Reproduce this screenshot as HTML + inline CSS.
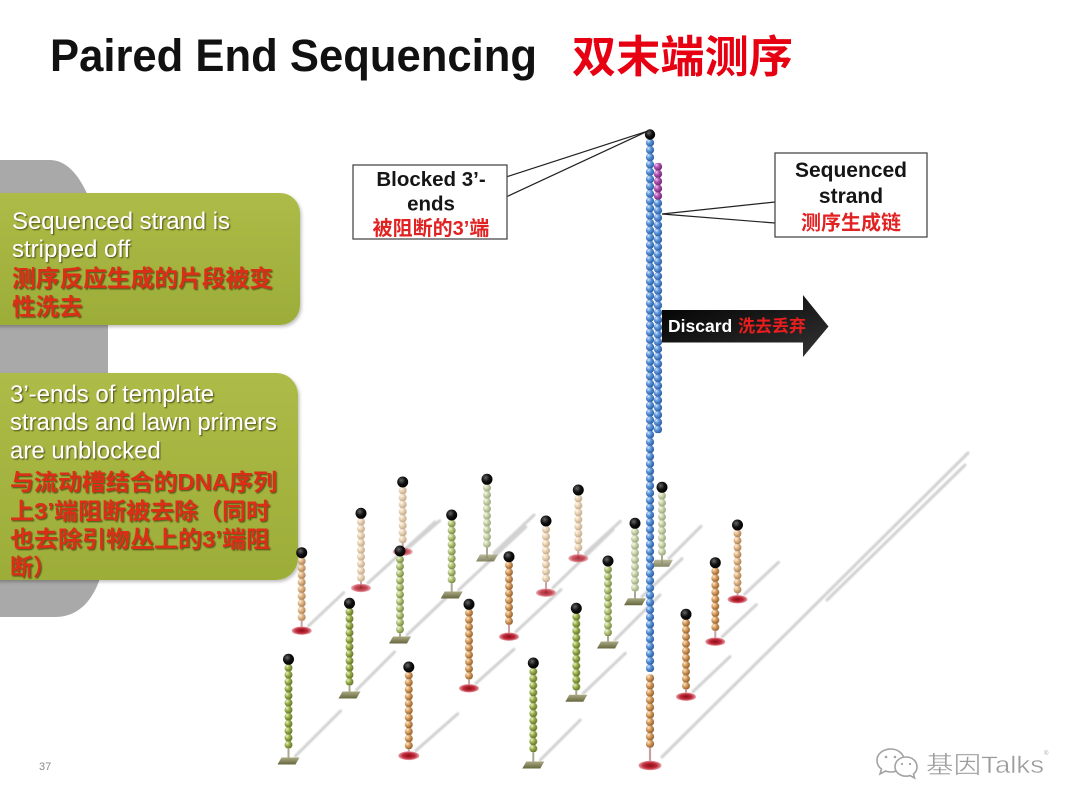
<!DOCTYPE html>
<html><head><meta charset="utf-8">
<style>
html,body{margin:0;padding:0;background:#fff;}
body{width:1080px;height:810px;overflow:hidden;}
svg{display:block;}
</style></head>
<body>
<svg width="1080" height="810" viewBox="0 0 1080 810" xmlns="http://www.w3.org/2000/svg">
<defs>
  <radialGradient id="gBlue" cx=".38" cy=".35" r=".7" fx=".3" fy=".28"><stop offset="0" stop-color="#dbeaff"/><stop offset=".4" stop-color="#5f98dc"/><stop offset="1" stop-color="#24549a"/></radialGradient>
  <radialGradient id="gPur" cx=".38" cy=".35" r=".7" fx=".3" fy=".28"><stop offset="0" stop-color="#f6d0f4"/><stop offset=".4" stop-color="#b458b4"/><stop offset="1" stop-color="#681c6e"/></radialGradient>
  <radialGradient id="gTS" cx=".38" cy=".35" r=".7" fx=".3" fy=".28"><stop offset="0" stop-color="#ffecd0"/><stop offset=".42" stop-color="#d9a064"/><stop offset="1" stop-color="#8a5622"/></radialGradient>
  <radialGradient id="gTM" cx=".38" cy=".35" r=".7" fx=".3" fy=".28"><stop offset="0" stop-color="#fff2e0"/><stop offset=".42" stop-color="#e2b787"/><stop offset="1" stop-color="#a27a50"/></radialGradient>
  <radialGradient id="gTP" cx=".38" cy=".35" r=".7" fx=".3" fy=".28"><stop offset="0" stop-color="#fffaf0"/><stop offset=".42" stop-color="#ecd5b8"/><stop offset="1" stop-color="#bba285"/></radialGradient>
  <radialGradient id="gGS" cx=".38" cy=".35" r=".7" fx=".3" fy=".28"><stop offset="0" stop-color="#eef6cc"/><stop offset=".42" stop-color="#9db24f"/><stop offset="1" stop-color="#586b20"/></radialGradient>
  <radialGradient id="gGM" cx=".38" cy=".35" r=".7" fx=".3" fy=".28"><stop offset="0" stop-color="#f3f8de"/><stop offset=".42" stop-color="#b5c67a"/><stop offset="1" stop-color="#72803e"/></radialGradient>
  <radialGradient id="gGP" cx=".38" cy=".35" r=".7" fx=".3" fy=".28"><stop offset="0" stop-color="#f8faee"/><stop offset=".42" stop-color="#cdd7ad"/><stop offset="1" stop-color="#929c78"/></radialGradient>
  <radialGradient id="gBlack" cx=".38" cy=".35" r=".7"><stop offset="0" stop-color="#666"/><stop offset=".5" stop-color="#111"/><stop offset="1" stop-color="#000"/></radialGradient>
  <radialGradient id="gRed" cx=".5" cy=".5" r=".5"><stop offset="0" stop-color="#8e0c18"/><stop offset=".6" stop-color="#c02b3a"/><stop offset="1" stop-color="#e7a2aa"/></radialGradient>
  <linearGradient id="gSq" x1="0" y1="1" x2="0" y2="0"><stop offset="0" stop-color="#66663e"/><stop offset="1" stop-color="#a9a983"/></linearGradient>
  <linearGradient id="gGreenBox" x1="0" y1="0" x2="0" y2="1"><stop offset="0" stop-color="#adbb47"/><stop offset="1" stop-color="#9cad38"/></linearGradient>
  <linearGradient id="gArrow" x1="0" y1="0" x2="1" y2="1"><stop offset="0" stop-color="#000"/><stop offset="1" stop-color="#333"/></linearGradient>

  <pattern id="pBlue" patternUnits="userSpaceOnUse" x="-4.5" y="0" width="9" height="7.3"><circle cx="4.5" cy="3.65" r="4.1" fill="url(#gBlue)"/></pattern>
  <pattern id="pPur" patternUnits="userSpaceOnUse" x="-4.5" y="0" width="9" height="7.3"><circle cx="4.5" cy="3.65" r="4.1" fill="url(#gPur)"/></pattern>
  <pattern id="pTSm" patternUnits="userSpaceOnUse" x="-4.5" y="0" width="9" height="7.3"><circle cx="4.5" cy="3.65" r="4.1" fill="url(#gTS)"/></pattern>

  <pattern id="pTS" patternUnits="userSpaceOnUse" x="-4.5" y="5" width="9" height="7"><circle cx="4.5" cy="3.5" r="3.95" fill="url(#gTS)"/></pattern>
  <pattern id="pTM" patternUnits="userSpaceOnUse" x="-4.5" y="5" width="9" height="7"><circle cx="4.5" cy="3.5" r="3.95" fill="url(#gTM)"/></pattern>
  <pattern id="pTP" patternUnits="userSpaceOnUse" x="-4.5" y="5" width="9" height="7"><circle cx="4.5" cy="3.5" r="3.95" fill="url(#gTP)"/></pattern>
  <pattern id="pGS" patternUnits="userSpaceOnUse" x="-4.5" y="5" width="9" height="7"><circle cx="4.5" cy="3.5" r="3.95" fill="url(#gGS)"/></pattern>
  <pattern id="pGM" patternUnits="userSpaceOnUse" x="-4.5" y="5" width="9" height="7"><circle cx="4.5" cy="3.5" r="3.95" fill="url(#gGM)"/></pattern>
  <pattern id="pGP" patternUnits="userSpaceOnUse" x="-4.5" y="5" width="9" height="7"><circle cx="4.5" cy="3.5" r="3.95" fill="url(#gGP)"/></pattern>

  <filter id="ts" x="-5%" y="-20%" width="110%" height="150%"><feDropShadow dx="1.2" dy="1.2" stdDeviation="0.6" flood-color="#3a3a10" flood-opacity=".75"/></filter>
  <filter id="blur1" x="-10%" y="-10%" width="120%" height="120%"><feGaussianBlur stdDeviation="0.7"/></filter>
  <filter id="boxsh" x="-5%" y="-5%" width="115%" height="120%"><feDropShadow dx="1.5" dy="2" stdDeviation="1.5" flood-color="#000" flood-opacity=".25"/></filter>
</defs>

<rect width="1080" height="810" fill="#fff"/>

<!-- gray background shape -->
<path d="M0,160 H50 C85,160 108,230 108,320 V520 C108,580 90,617 55,617 H0 Z" fill="#a9a9a9"/>

<!-- green boxes -->
<rect x="-24" y="193" width="324" height="132" rx="20" fill="url(#gGreenBox)" filter="url(#boxsh)"/>
<rect x="-24" y="373" width="322" height="207" rx="22" fill="url(#gGreenBox)" filter="url(#boxsh)"/>

<g font-family="'Liberation Sans','Noto Sans CJK SC',sans-serif" font-size="24" filter="url(#ts)">
  <text x="12" y="229" fill="#fff" textLength="218" lengthAdjust="spacingAndGlyphs">Sequenced strand is</text>
  <text x="12" y="257" fill="#fff">stripped off</text>
  <text x="12" y="286.5" fill="#dc2e16" font-weight="bold" font-size="23.5" textLength="261" lengthAdjust="spacingAndGlyphs">测序反应生成的片段被变</text>
  <text x="12" y="315" fill="#dc2e16" font-weight="bold" font-size="23.5">性洗去</text>

  <text x="10" y="402" fill="#fff">3’-ends of template</text>
  <text x="10" y="430" fill="#fff" textLength="267" lengthAdjust="spacingAndGlyphs">strands and lawn primers</text>
  <text x="10" y="458.5" fill="#fff">are unblocked</text>
  <text x="10" y="490" fill="#dc2e16" font-weight="bold" font-size="23" textLength="267" lengthAdjust="spacingAndGlyphs">与流动槽结合的DNA序列</text>
  <text x="10" y="519" fill="#dc2e16" font-weight="bold" font-size="23" textLength="260" lengthAdjust="spacingAndGlyphs">上3’端阻断被去除（同时</text>
  <text x="10" y="547" fill="#dc2e16" font-weight="bold" font-size="23" textLength="260" lengthAdjust="spacingAndGlyphs">也去除引物丛上的3’端阻</text>
  <text x="10" y="575" fill="#dc2e16" font-weight="bold" font-size="23">断）</text>
</g>

<!-- shadows -->
<g stroke="#c9c9c9" stroke-width="3" stroke-linecap="round" filter="url(#blur1)" opacity=".85">
  <line x1="409.7" y1="546.7" x2="439.7" y2="520.7"/>
  <line x1="494" y1="553" x2="534" y2="515"/>
  <line x1="585.3" y1="553.3" x2="620.3" y2="521.3"/>
  <line x1="669" y1="558.3" x2="701" y2="526.3"/>
  <line x1="368" y1="583" x2="435" y2="522"/>
  <line x1="553" y1="587.7" x2="613" y2="529.7"/>
  <line x1="458.7" y1="590" x2="525.7" y2="527"/>
  <line x1="744.5" y1="594.3" x2="778.5" y2="562.3"/>
  <line x1="642" y1="596.7" x2="682" y2="558.7"/>
  <line x1="308.7" y1="625.7" x2="343.7" y2="592.7"/>
  <line x1="516" y1="631.7" x2="561" y2="589.7"/>
  <line x1="407" y1="635" x2="447" y2="597"/>
  <line x1="722.3" y1="636.7" x2="756.3" y2="604.7"/>
  <line x1="615" y1="640" x2="660" y2="595"/>
  <line x1="476" y1="683.3" x2="514" y2="649.3"/>
  <line x1="356.5" y1="690" x2="394.5" y2="652"/>
  <line x1="693" y1="691.7" x2="730" y2="656.7"/>
  <line x1="583.3" y1="693.3" x2="625.3" y2="653.3"/>
  <line x1="415.8" y1="750.7" x2="457.8" y2="713.7"/>
  <line x1="295.5" y1="756" x2="340.5" y2="711"/>
  <line x1="540.3" y1="760" x2="580.3" y2="720"/>
  <line x1="662" y1="757" x2="968" y2="453"/>
  <line x1="827" y1="600" x2="965" y2="465"/>
</g>

<!-- posts back to front -->
<g>
  <g transform="translate(402.7,482)"><line x1="0" y1="0" x2="0" y2="69.7" stroke="#c9a4a4" stroke-width="2"/><rect x="-4.5" y="5" width="9" height="56" fill="url(#pTP)"/><ellipse cx="0" cy="69.7" rx="10" ry="4.2" fill="url(#gRed)" opacity=".8"/><circle r="5.5" fill="url(#gBlack)"/></g>
  <g transform="translate(487,479.3)"><line x1="0" y1="0" x2="0" y2="78.7" stroke="#a9a992" stroke-width="2"/><rect x="-4.5" y="5" width="9" height="63" fill="url(#pGP)"/><polygon points="-11,82.2 7,82.2 11,75.2 -7,75.2" fill="url(#gSq)" opacity=".8"/><circle r="5.5" fill="url(#gBlack)"/></g>
  <g transform="translate(578.3,490)"><line x1="0" y1="0" x2="0" y2="68.3" stroke="#c9a4a4" stroke-width="2"/><rect x="-4.5" y="5" width="9" height="56" fill="url(#pTP)"/><ellipse cx="0" cy="68.3" rx="10" ry="4.2" fill="url(#gRed)" opacity=".8"/><circle r="5.5" fill="url(#gBlack)"/></g>
  <g transform="translate(662,487.3)"><line x1="0" y1="0" x2="0" y2="76" stroke="#a9a992" stroke-width="2"/><rect x="-4.5" y="5" width="9" height="63" fill="url(#pGP)"/><polygon points="-11,79.5 7,79.5 11,72.5 -7,72.5" fill="url(#gSq)" opacity=".8"/><circle r="5.5" fill="url(#gBlack)"/></g>
  <g transform="translate(361,513.3)"><line x1="0" y1="0" x2="0" y2="74.7" stroke="#c9a4a4" stroke-width="2"/><rect x="-4.5" y="5" width="9" height="63" fill="url(#pTP)"/><ellipse cx="0" cy="74.7" rx="10" ry="4.2" fill="url(#gRed)" opacity=".85"/><circle r="5.5" fill="url(#gBlack)"/></g>
  <g transform="translate(546,521)"><line x1="0" y1="0" x2="0" y2="71.7" stroke="#c9a4a4" stroke-width="2"/><rect x="-4.5" y="5" width="9" height="56" fill="url(#pTP)"/><ellipse cx="0" cy="71.7" rx="10" ry="4.2" fill="url(#gRed)" opacity=".85"/><circle r="5.5" fill="url(#gBlack)"/></g>
  <g transform="translate(451.7,515)"><line x1="0" y1="0" x2="0" y2="80" stroke="#a9a992" stroke-width="2"/><rect x="-4.5" y="5" width="9" height="63" fill="url(#pGM)"/><polygon points="-11,83.5 7,83.5 11,76.5 -7,76.5" fill="url(#gSq)"/><circle r="5.5" fill="url(#gBlack)"/></g>
  <g transform="translate(737.5,525)"><line x1="0" y1="0" x2="0" y2="74.3" stroke="#c9a4a4" stroke-width="2"/><rect x="-4.5" y="5" width="9" height="63" fill="url(#pTM)"/><ellipse cx="0" cy="74.3" rx="10" ry="4.2" fill="url(#gRed)"/><circle r="5.5" fill="url(#gBlack)"/></g>
  <g transform="translate(635,523.3)"><line x1="0" y1="0" x2="0" y2="78.4" stroke="#a9a992" stroke-width="2"/><rect x="-4.5" y="5" width="9" height="63" fill="url(#pGP)"/><polygon points="-11,81.9 7,81.9 11,74.9 -7,74.9" fill="url(#gSq)"/><circle r="5.5" fill="url(#gBlack)"/></g>
  <g transform="translate(301.7,552.7)"><line x1="0" y1="0" x2="0" y2="78" stroke="#c9a4a4" stroke-width="2"/><rect x="-4.5" y="5" width="9" height="63" fill="url(#pTM)"/><ellipse cx="0" cy="78" rx="10" ry="4.2" fill="url(#gRed)"/><circle r="5.5" fill="url(#gBlack)"/></g>
  <g transform="translate(509,556.7)"><line x1="0" y1="0" x2="0" y2="80" stroke="#c9a4a4" stroke-width="2"/><rect x="-4.5" y="5" width="9" height="63" fill="url(#pTS)"/><ellipse cx="0" cy="80" rx="10" ry="4.2" fill="url(#gRed)"/><circle r="5.5" fill="url(#gBlack)"/></g>
  <g transform="translate(400,551)"><line x1="0" y1="0" x2="0" y2="89" stroke="#a9a992" stroke-width="2"/><rect x="-4.5" y="5" width="9" height="77" fill="url(#pGM)"/><polygon points="-11,92.5 7,92.5 11,85.5 -7,85.5" fill="url(#gSq)"/><circle r="5.5" fill="url(#gBlack)"/></g>
  <g transform="translate(715.3,562.7)"><line x1="0" y1="0" x2="0" y2="79" stroke="#c9a4a4" stroke-width="2"/><rect x="-4.5" y="5" width="9" height="63" fill="url(#pTS)"/><ellipse cx="0" cy="79" rx="10" ry="4.2" fill="url(#gRed)"/><circle r="5.5" fill="url(#gBlack)"/></g>
  <g transform="translate(608,561)"><line x1="0" y1="0" x2="0" y2="84" stroke="#a9a992" stroke-width="2"/><rect x="-4.5" y="5" width="9" height="70" fill="url(#pGM)"/><polygon points="-11,87.5 7,87.5 11,80.5 -7,80.5" fill="url(#gSq)"/><circle r="5.5" fill="url(#gBlack)"/></g>
  <g transform="translate(469,604.3)"><line x1="0" y1="0" x2="0" y2="84" stroke="#c9a4a4" stroke-width="2"/><rect x="-4.5" y="5" width="9" height="70" fill="url(#pTS)"/><ellipse cx="0" cy="84" rx="10" ry="4.2" fill="url(#gRed)"/><circle r="5.5" fill="url(#gBlack)"/></g>
  <g transform="translate(349.5,603.3)"><line x1="0" y1="0" x2="0" y2="91.7" stroke="#a9a992" stroke-width="2"/><rect x="-4.5" y="5" width="9" height="77" fill="url(#pGS)"/><polygon points="-11,95.2 7,95.2 11,88.2 -7,88.2" fill="url(#gSq)"/><circle r="5.5" fill="url(#gBlack)"/></g>
  <g transform="translate(686,614.3)"><line x1="0" y1="0" x2="0" y2="82.4" stroke="#c9a4a4" stroke-width="2"/><rect x="-4.5" y="5" width="9" height="70" fill="url(#pTS)"/><ellipse cx="0" cy="82.4" rx="10" ry="4.2" fill="url(#gRed)"/><circle r="5.5" fill="url(#gBlack)"/></g>
  <g transform="translate(576.3,608.3)"><line x1="0" y1="0" x2="0" y2="90" stroke="#a9a992" stroke-width="2"/><rect x="-4.5" y="5" width="9" height="77" fill="url(#pGS)"/><polygon points="-11,93.5 7,93.5 11,86.5 -7,86.5" fill="url(#gSq)"/><circle r="5.5" fill="url(#gBlack)"/></g>
  <g transform="translate(408.8,667)"><line x1="0" y1="0" x2="0" y2="88.7" stroke="#c9a4a4" stroke-width="2"/><rect x="-4.5" y="5" width="9" height="77" fill="url(#pTS)"/><ellipse cx="0" cy="88.7" rx="10.5" ry="4.4" fill="url(#gRed)"/><circle r="5.5" fill="url(#gBlack)"/></g>
  <g transform="translate(288.5,659.3)"><line x1="0" y1="0" x2="0" y2="101.7" stroke="#a9a992" stroke-width="2"/><rect x="-4.5" y="5" width="9" height="84" fill="url(#pGS)"/><polygon points="-11,105.2 7,105.2 11,98.2 -7,98.2" fill="url(#gSq)"/><circle r="5.5" fill="url(#gBlack)"/></g>
  <g transform="translate(533.3,663)"><line x1="0" y1="0" x2="0" y2="102" stroke="#a9a992" stroke-width="2"/><rect x="-4.5" y="5" width="9" height="84" fill="url(#pGS)"/><polygon points="-11,105.5 7,105.5 11,98.5 -7,98.5" fill="url(#gSq)"/><circle r="5.5" fill="url(#gBlack)"/></g>
</g>

<!-- main strand -->
<g>
  <g transform="translate(658,163)"><rect x="-4.5" y="0" width="9" height="36.5" fill="url(#pPur)"/></g>
  <g transform="translate(658,199.5)"><rect x="-4.5" y="0" width="9" height="233.6" fill="url(#pBlue)"/></g>
  <line x1="650" y1="740" x2="650" y2="764" stroke="#c9a0a0" stroke-width="2.2"/>
  <ellipse cx="650" cy="765.5" rx="11.5" ry="4.8" fill="url(#gRed)"/>
  <g transform="translate(650,139)"><rect x="-4.5" y="0" width="9" height="532.9" fill="url(#pBlue)"/></g>
  <g transform="translate(650,674.5)"><rect x="-4.5" y="0" width="9" height="73" fill="url(#pTSm)"/></g>
  <circle cx="650" cy="134.5" r="5.2" fill="url(#gBlack)"/>
</g>

<!-- callout connectors -->
<g stroke="#222" stroke-width="1.2" fill="none">
  <line x1="506" y1="177" x2="648" y2="131"/>
  <line x1="506" y1="197" x2="648" y2="131"/>
  <line x1="775" y1="202" x2="662" y2="214"/>
  <line x1="775" y1="223" x2="662" y2="214"/>
</g>
<rect x="353" y="165" width="154" height="74" fill="#fff" stroke="#4a4a4a" stroke-width="1.3"/>
<g font-family="'Liberation Sans','Noto Sans CJK SC',sans-serif" font-weight="bold" text-anchor="middle">
  <text x="431" y="186" font-size="20.5" fill="#151515">Blocked 3’-</text>
  <text x="431" y="210.5" font-size="20.5" fill="#151515">ends</text>
  <text x="431" y="235" font-size="20" fill="#e12222">被阻断的3’端</text>
</g>

<rect x="775" y="153" width="152" height="84" fill="#fff" stroke="#4a4a4a" stroke-width="1.3"/>
<g font-family="'Liberation Sans','Noto Sans CJK SC',sans-serif" font-weight="bold" text-anchor="middle">
  <text x="851" y="177" font-size="21" fill="#151515">Sequenced</text>
  <text x="851" y="203" font-size="21" fill="#151515">strand</text>
  <text x="851" y="229.5" font-size="20" fill="#e12222">测序生成链</text>
</g>

<!-- Discard arrow -->
<polygon points="662,310 803,310 803,295 828.5,326.5 803,357 803,342.5 662,342.5" fill="url(#gArrow)"/>
<text x="668" y="332" font-family="'Liberation Sans',sans-serif" font-weight="bold" font-size="17.5" fill="#fff">Discard</text>
<text x="738" y="332" font-family="'Liberation Sans','Noto Sans CJK SC',sans-serif" font-weight="bold" font-size="17" fill="#ea1e1e">洗去丢弃</text>

<!-- title -->
<text x="50" y="71" font-family="'Liberation Sans',sans-serif" font-weight="bold" font-size="45" fill="#111" textLength="487" lengthAdjust="spacingAndGlyphs">Paired End Sequencing</text>
<text x="572" y="72" font-family="'Liberation Sans','Noto Sans CJK SC',sans-serif" font-weight="bold" font-size="44" fill="#e60012" textLength="221" lengthAdjust="spacingAndGlyphs">双末端测序</text>

<!-- page number -->
<text x="39" y="770" font-family="'Liberation Sans',sans-serif" font-size="11" fill="#8a8a8a">37</text>

<!-- watermark -->
<g fill="none" stroke="#a3a3a3" stroke-width="1.6">
  <path d="M891,749 C898,749 904,754 904,760 C904,767 898,772 891,772 C889,772 887,771.6 885.5,771 L880,774 L881.5,769 C878.5,767 877,764 877,760 C877,754 883,749 891,749 Z" fill="#fff"/>
  <path d="M906,757 C912,757 917,761 917,767 C917,770 915.5,772.5 913.5,774 L914.5,778 L910,775.5 C908.7,776 907.4,776.2 906,776.2 C900,776.2 895,772 895,767 C895,761 900,757 906,757 Z" fill="#fff"/>
</g>
<g fill="#a3a3a3"><circle cx="886" cy="757" r="1.3"/><circle cx="895" cy="757" r="1.3"/><circle cx="902" cy="764" r="1.1"/><circle cx="910" cy="764" r="1.1"/></g>
<text x="926" y="773" font-family="'Liberation Sans','Noto Sans CJK SC',sans-serif" font-size="24" fill="#9c9c9c" stroke="#fff" stroke-width=".4" textLength="118" lengthAdjust="spacingAndGlyphs">基因Talks</text>
<text x="1044" y="755" font-family="'Liberation Sans',sans-serif" font-size="6" fill="#aaa">®</text>
</svg>
</body></html>
